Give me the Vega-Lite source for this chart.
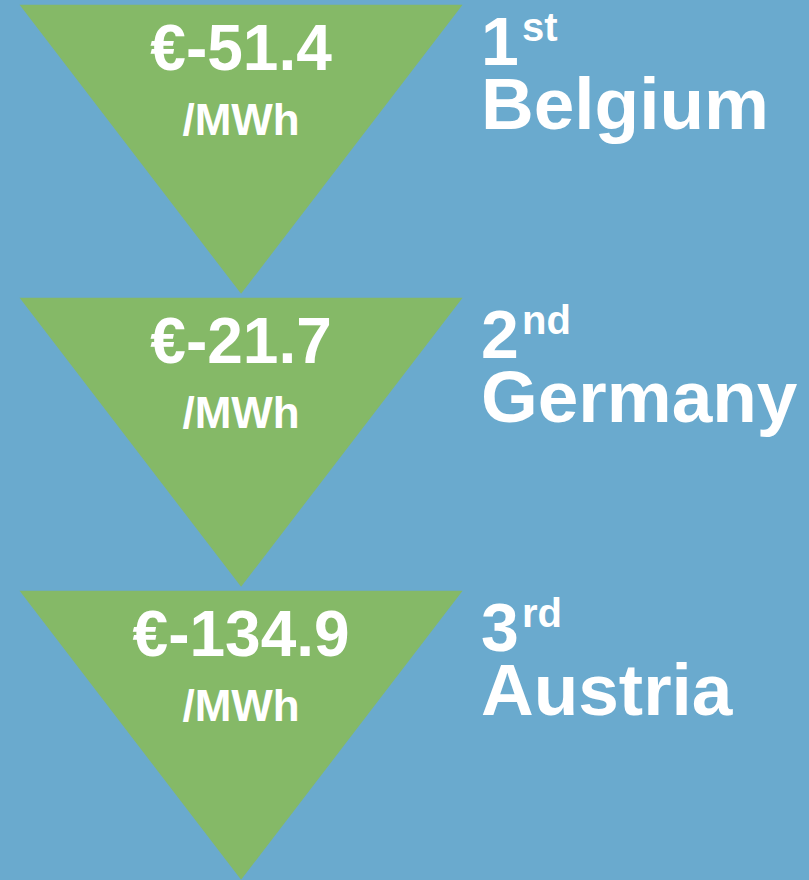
{
  "$schema": "https://vega.github.io/schema/vega-lite/v6.json",
  "width": 809,
  "height": 880,
  "autosize": {"type": "fit", "contains": "padding"},
  "padding": 0,
  "background": "#6AAACE",
  "config": {"view": {"stroke": null}, "text": {"font": "Liberation Sans", "fontWeight": "bold", "color": "#FFFFFF"}},
  "data": {
    "values": [
      {"rank": 1, "suffix": "st", "country": "Belgium", "price": -51.4, "label": "€-51.4", "unit": "/MWh"},
      {"rank": 2, "suffix": "nd", "country": "Germany", "price": -21.7, "label": "€-21.7", "unit": "/MWh"},
      {"rank": 3, "suffix": "rd", "country": "Austria", "price": -134.9, "label": "€-134.9", "unit": "/MWh"}
    ]
  },
  "encoding": {
    "y": {"field": "rank", "type": "quantitative", "scale": {"domain": [0.5, 3.5], "reverse": true, "nice": false, "zero": false}, "axis": null}
  },
  "layer": [
    {
      "mark": {"type": "point", "shape": "M-1,-0.64L1,-0.64L0,0.665Z", "size": 196249, "filled": true, "opacity": 1, "color": "#85B967", "strokeWidth": 0},
      "encoding": {"x": {"datum": 0.298, "type": "quantitative", "scale": {"domain": [0, 1], "nice": false, "zero": false}, "axis": null}}
    },
    {
      "mark": {"type": "text", "fontSize": 64, "align": "center", "baseline": "alphabetic", "dy": -77},
      "encoding": {"x": {"datum": 0.298, "type": "quantitative"}, "text": {"field": "label"}}
    },
    {
      "mark": {"type": "text", "fontSize": 44, "align": "center", "baseline": "alphabetic", "dy": -12},
      "encoding": {"x": {"datum": 0.298, "type": "quantitative"}, "text": {"field": "unit"}}
    },
    {
      "mark": {"type": "text", "fontSize": 68, "align": "left", "baseline": "alphabetic", "dy": -82},
      "encoding": {"x": {"datum": 0.5945, "type": "quantitative"}, "text": {"field": "rank"}}
    },
    {
      "mark": {"type": "text", "fontSize": 40, "align": "left", "baseline": "alphabetic", "dx": 41, "dy": -106},
      "encoding": {"x": {"datum": 0.5945, "type": "quantitative"}, "text": {"field": "suffix"}}
    },
    {
      "mark": {"type": "text", "fontSize": 73, "align": "left", "baseline": "alphabetic", "dy": -18},
      "encoding": {"x": {"datum": 0.5945, "type": "quantitative"}, "text": {"field": "country"}}
    }
  ]
}
